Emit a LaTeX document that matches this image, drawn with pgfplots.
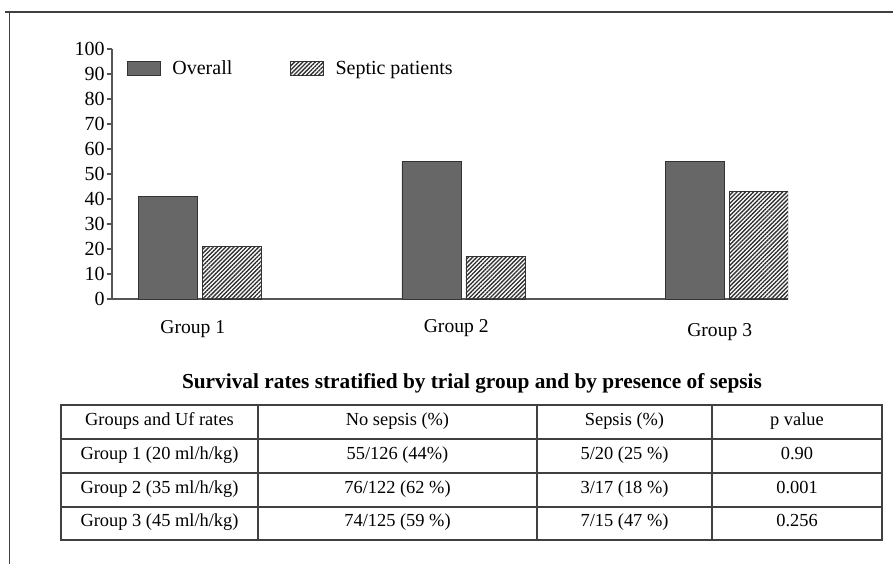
\documentclass[border=0pt]{standalone}
\usepackage{fontspec}
\setmainfont{Liberation Serif}
\usepackage{pgfplots}
\pgfplotsset{compat=1.18}
\usetikzlibrary{patterns.meta}
\definecolor{barfill}{HTML}{676767}
\definecolor{bardraw}{HTML}{333333}
\definecolor{hatch}{HTML}{2E2E2E}
\definecolor{linec}{HTML}{404040}
\definecolor{axc}{HTML}{555555}
\pgfplotsset{boxlegend/.style={legend image code/.code={\draw[##1] (0pt,-5.4pt) rectangle (24.75pt,5.4pt); \path (31.5pt,0pt);}}}
\begin{document}
\begin{tikzpicture}
\begin{scope}[x=0.75pt,y=-0.75pt]
\path[use as bounding box] (0,0) rectangle (893,564);
\draw[linec, line width=1.4pt] (5,12) -- (893,12);
\draw[linec, line width=1.4pt] (9.5,12) -- (9.5,564);
\node[font=\bfseries\fontsize{16}{18}\selectfont] at (472,383) {Survival rates stratified by trial group and by presence of sepsis};
\draw[linec, line width=1pt] (61,405) rectangle (882,540);
\foreach \y in {439,473,507} \draw[linec, line width=1pt] (61,\y) -- (882,\y);
\foreach \x in {258,537,712} \draw[linec, line width=1pt] (\x,405) -- (\x,540);
\tikzset{cell/.style={font=\fontsize{13.8}{16}\selectfont, anchor=center, text height=0.7em, text depth=0.22em, inner sep=0pt}}
\node[cell] at (159.5,422) {Groups and Uf rates};
\node[cell] at (397.5,422) {No sepsis (\%)};
\node[cell] at (624.5,422) {Sepsis (\%)};
\node[cell] at (797,422) {p value};
\node[cell] at (159.5,456) {Group 1 (20 ml/h/kg)};
\node[cell] at (397.5,456) {55/126 (44\%)};
\node[cell] at (624.5,456) {5/20 (25 \%)};
\node[cell] at (797,456) {0.90};
\node[cell] at (159.5,490) {Group 2 (35 ml/h/kg)};
\node[cell] at (397.5,490) {76/122 (62 \%)};
\node[cell] at (624.5,490) {3/17 (18 \%)};
\node[cell] at (797,490) {0.001};
\node[cell] at (159.5,523.5) {Group 3 (45 ml/h/kg)};
\node[cell] at (397.5,523.5) {74/125 (59 \%)};
\node[cell] at (624.5,523.5) {7/15 (47 \%)};
\node[cell] at (797,523.5) {0.256};
\end{scope}
\begin{axis}[
  at={(84pt,-224.25pt)}, anchor=south west,
  scale only axis, width=507pt, height=187.5pt,
  xmin=-0.334, xmax=2.232, ymin=0, ymax=100,
  axis lines=left, axis line style={-, axc, line width=0.9pt},
  ytick={0,10,...,100}, tick align=outside, major tick length=3.75pt,
  ytick style={axc, line width=0.9pt},
  yticklabel style={font=\fontsize{15}{17}\selectfont, inner sep=1.5pt},
  /pgf/number format/assume math mode=true,
  xtick={0,1,2}, xticklabels={Group 1,\raisebox{0.75pt}{Group 2},\raisebox{-2.25pt}{Group 3}},
  xtick style={draw=none},
  xticklabel style={font=\fontsize{14.7}{17}\selectfont, anchor=base, yshift=-21.75pt, xshift=-5.4pt},
  ybar=3.75pt, bar width=44.25pt,
  legend style={draw=none, fill=none, at={(0,1)}, anchor=north west, xshift=8pt, yshift=-4.5pt,
    font=\fontsize{15}{18}\selectfont, legend columns=2,
    /tikz/every even column/.append style={column sep=41.25pt}},
  legend cell align=left,
]
\addplot[fill=barfill, draw=bardraw, line width=0.6pt, boxlegend]
  coordinates {(0,41) (1,55) (2,55)};
\addlegendentry{Overall}
\addplot[pattern={Lines[angle=45,distance=2.2pt,line width=1pt]}, pattern color=hatch, draw=bardraw, line width=0.6pt, boxlegend]
  coordinates {(0,21) (1,17) (2,43)};
\addlegendentry{Septic patients}
\end{axis}
\end{tikzpicture}
\end{document}
